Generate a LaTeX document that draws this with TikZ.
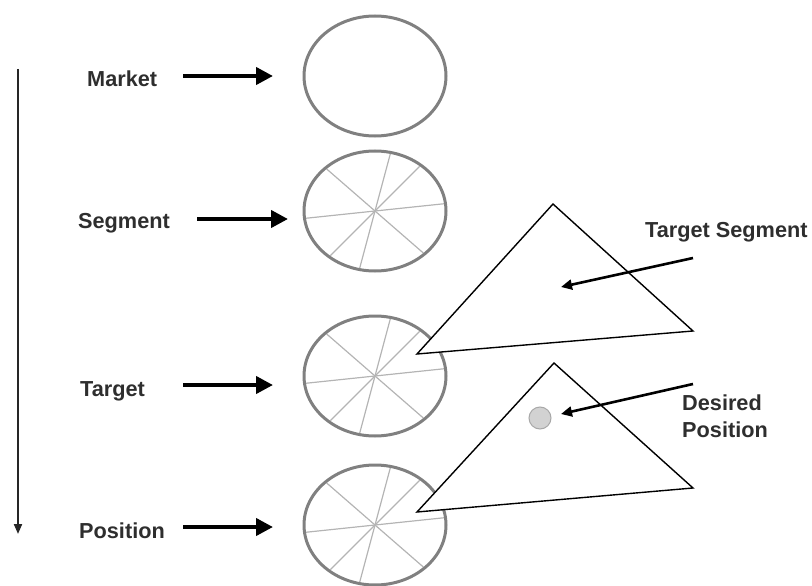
\documentclass[tikz,border=0pt]{standalone}
\usepackage{fontspec}
\setmainfont{Liberation Sans}
\usetikzlibrary{shapes.geometric,arrows.meta}
\definecolor{ringgray}{HTML}{808080}
\definecolor{spokegray}{HTML}{B4B4B4}
\definecolor{txt}{HTML}{2E2E2E}
\definecolor{dotfill}{HTML}{D2D2D2}
\definecolor{dotline}{HTML}{A8A8A8}
\tikzset{
  ring/.style={ellipse, draw=ringgray, line width=3pt, minimum width=142pt, minimum height=120pt, inner sep=0pt},
  spoke/.style={draw=spokegray, line width=1.2pt, shorten <=3pt, shorten >=3pt},
  lab/.style={anchor=base west, inner sep=0pt, text=txt, font=\fontsize{21.7}{26}\selectfont\bfseries},
  bigarrow/.style={line width=4pt, -{Triangle[length=17pt,width=17pt]}},
  tri/.style={draw=black, fill=white, line width=1.4pt, line join=miter},
  ptr/.style={line width=2.6pt, -{Triangle[length=11pt,width=10pt]}},
  flow/.style={line width=2pt, draw=black!85, -{Triangle[length=10pt,width=8pt]}}
}
\begin{document}
\begin{tikzpicture}[x=1pt,y=-1pt]
\useasboundingbox (0,0) rectangle (812,586);
% circles
\node[ring] (c1) at (375,76) {};
\node[ring] (c2) at (375,211) {};
\node[ring] (c3) at (375,376) {};
\node[ring] (c4) at (375,525) {};
% spokes
\foreach \c in {c2,c3,c4}{
  \foreach \a in {6.7,45,75,139}{
    \draw[spoke] (\c.\a) -- (\c.\a+180);
  }
}
% labels
\node[lab] (l1) at (87,87) {Market};
\node[lab] (l2) at (78,228) {Segment};
\node[lab] (l3) at (80,396) {Target};
\node[lab] (l4) at (79,538) {Position};
\node[lab] (l5) at (645,237) {Target Segment};
\node[lab] (l6) at (682,410) {Desired};
\node[lab] (l7) at (682,437) {Position};
% arrow end points
\coordinate (a1s) at (183,76);  \coordinate (a1e) at (273,76);
\coordinate (a2s) at (197,219); \coordinate (a2e) at (288,219);
\coordinate (a3s) at (183,385); \coordinate (a3e) at (273,385);
\coordinate (a4s) at (183,527); \coordinate (a4e) at (273,527);
\draw[bigarrow] (a1s) -- (a1e);
\draw[bigarrow] (a2s) -- (a2e);
\draw[bigarrow] (a3s) -- (a3e);
\draw[bigarrow] (a4s) -- (a4e);
% triangles
\coordinate (t1a) at (553,204); \coordinate (t1b) at (417,354); \coordinate (t1c) at (693,331);
\coordinate (t2a) at (554,363); \coordinate (t2b) at (417,512); \coordinate (t2c) at (693,488);
\draw[tri] (t1a) -- (t1b) -- (t1c) -- cycle;
\draw[tri] (t2a) -- (t2b) -- (t2c) -- cycle;
\node[circle, draw=dotline, fill=dotfill, line width=1pt, minimum size=22pt, inner sep=0pt] (dot) at (540,418) {};
% pointers
\coordinate (p1s) at (693,258); \coordinate (p1e) at (561,287);
\coordinate (p2s) at (693,384); \coordinate (p2e) at (561,414);
\draw[ptr] (p1s) -- (p1e);
\draw[ptr] (p2s) -- (p2e);
% flow arrow
\coordinate (fs) at (18,69); \coordinate (fe) at (18,534);
\draw[flow] (fs) -- (fe);
\end{tikzpicture}
\end{document}
